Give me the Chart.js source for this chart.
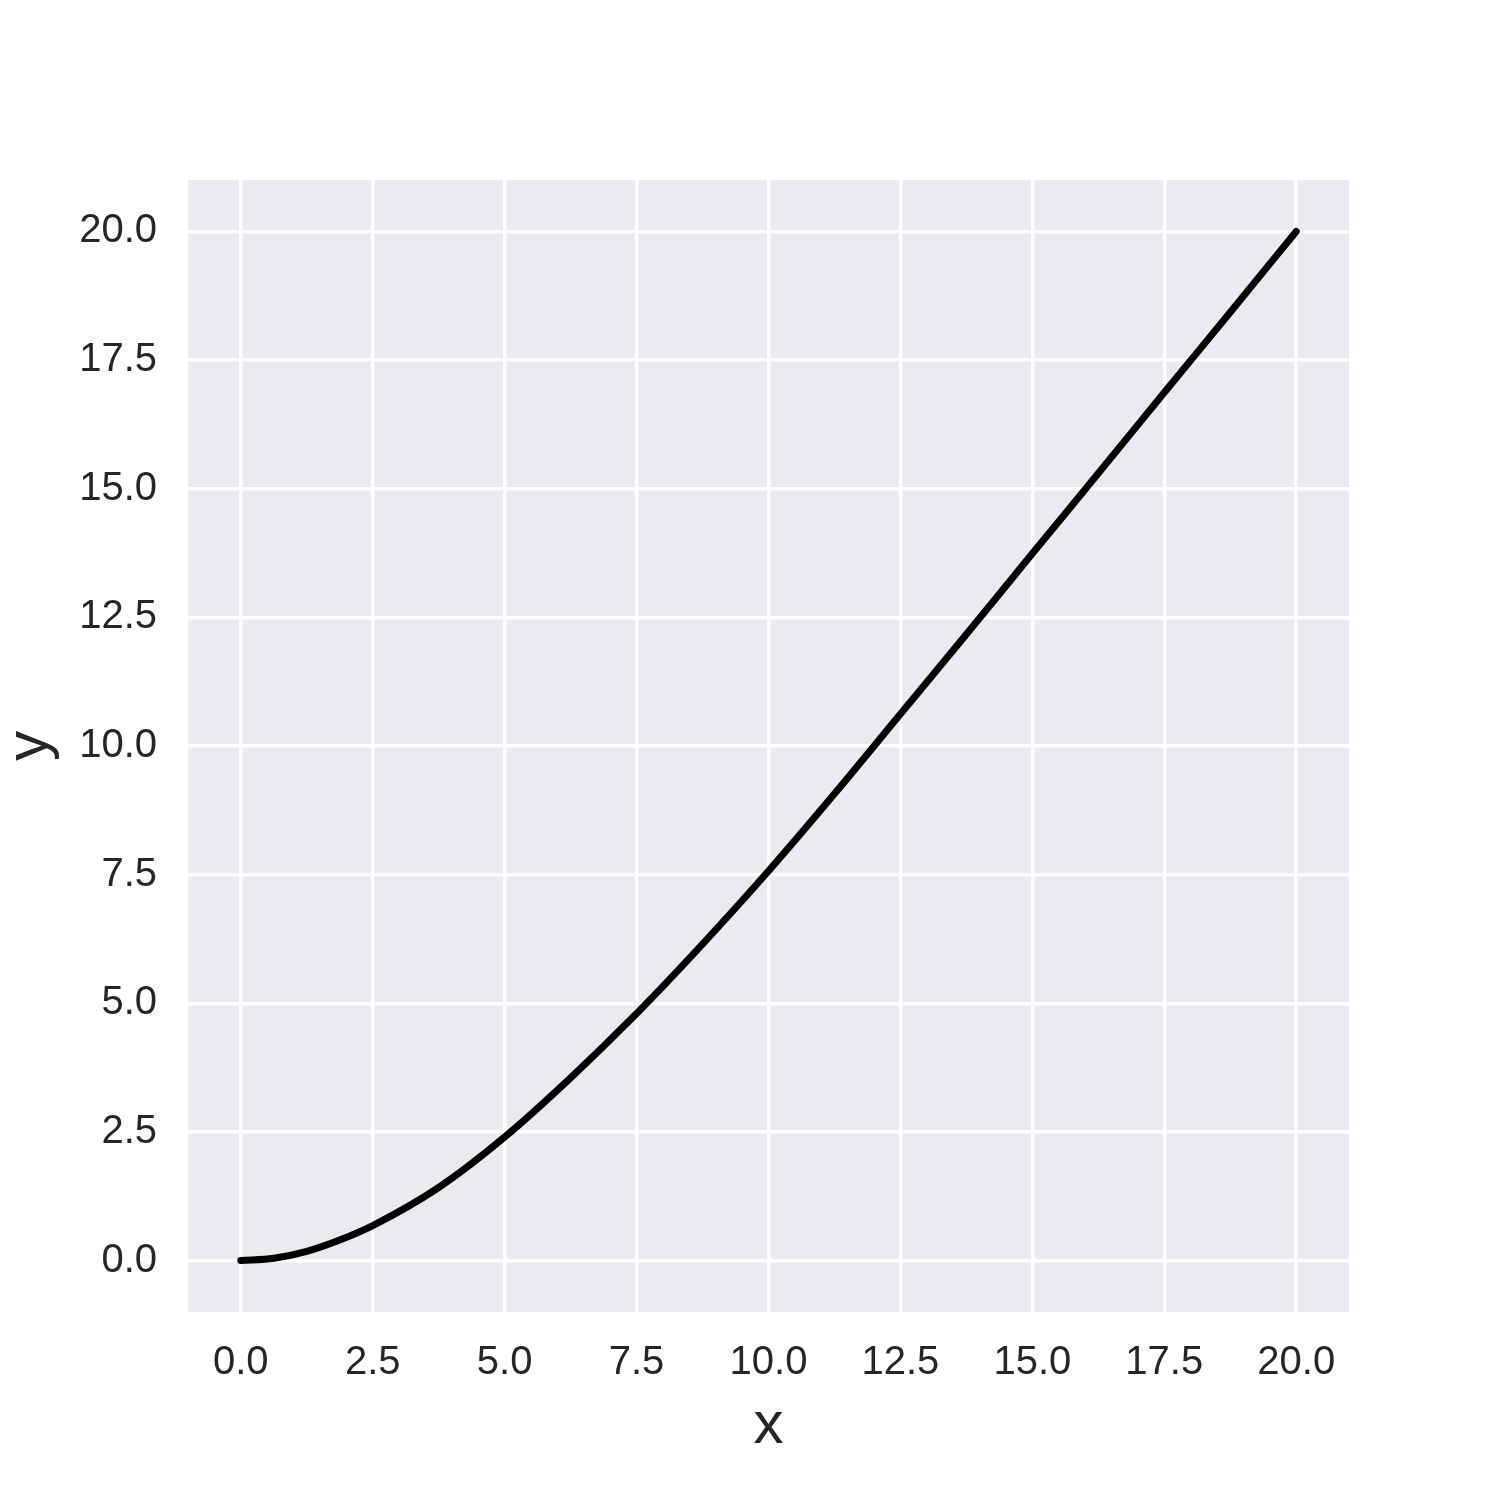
<!DOCTYPE html>
<html>
<head>
<meta charset="utf-8">
<script src="https://cdn.jsdelivr.net/npm/chart.js@4"></script>
<style>
html,body{margin:0;padding:0;background:#fff;}
#c{display:block;}
</style>
</head>
<body>
<canvas id="c" width="1500" height="1500"></canvas>
<script>
const xValues = [0, 0.625, 1.25, 1.875, 2.5, 3.75, 5, 6.25, 7.5, 8.75, 10, 11.25, 12.5, 13.75, 15, 16.25, 17.5, 18.75, 20];
const yValues = [0, 0.045, 0.18, 0.4, 0.68, 1.42, 2.4, 3.55, 4.8, 6.15, 7.57, 9.07, 10.62, 12.17, 13.74, 15.3, 16.87, 18.43, 20];
const xTicks = [0, 2.5, 5, 7.5, 10, 12.5, 15, 17.5, 20];
const yTicks = [0, 2.5, 5, 7.5, 10, 12.5, 15, 17.5, 20];
const xLabel = 'x';
const yLabel = 'y';

const points = xValues.map((x, i) => ({x: x, y: yValues[i]}));

const bgPlugin = {
  id: 'plotBg',
  beforeDraw(chart) {
    const {ctx, chartArea: a} = chart;
    ctx.save();
    ctx.fillStyle = '#EAEAF2';
    ctx.fillRect(a.left, a.top, a.right - a.left, a.bottom - a.top);
    ctx.restore();
  }
};

const fontFamily = '"Liberation Sans", Arial, sans-serif';

new Chart(document.getElementById('c'), {
  type: 'line',
  data: {
    datasets: [{
      data: points,
      borderColor: '#000000',
      borderWidth: 7,
      borderCapStyle: 'round',
      borderJoinStyle: 'round',
      pointRadius: 0,
      cubicInterpolationMode: 'monotone',
      fill: false
    }]
  },
  options: {
    responsive: false,
    animation: false,
    devicePixelRatio: 1,
    layout: {padding: {top: 180, right: 151, left: 0, bottom: 0}},
    plugins: {legend: {display: false}, tooltip: {enabled: false}},
    scales: {
      x: {
        type: 'linear',
        min: -1, max: 21,
        afterFit(s) { s.height = 188; },
        afterBuildTicks(s) { s.ticks = xTicks.map(v => ({value: v})); },
        grid: {color: '#FFFFFF', lineWidth: 3.5, drawTicks: false},
        border: {display: false},
        ticks: {
          padding: 27,
          color: '#262626',
          font: {family: fontFamily, size: 40},
          maxRotation: 0,
          autoSkip: false,
          callback: v => v.toFixed(1)
        },
        title: {
          display: true, text: xLabel, color: '#262626',
          font: {family: fontFamily, size: 60},
          padding: {top: 0, bottom: 38}
        }
      },
      y: {
        type: 'linear',
        min: -1, max: 21,
        afterFit(s) { s.width = 188; },
        afterBuildTicks(s) { s.ticks = yTicks.map(v => ({value: v})); },
        grid: {color: '#FFFFFF', lineWidth: 3.5, drawTicks: false},
        border: {display: false},
        ticks: {
          padding: 31,
          color: '#262626',
          font: {family: fontFamily, size: 40},
          autoSkip: false,
          callback: v => v.toFixed(1)
        },
        title: {
          display: true, text: yLabel, color: '#262626',
          font: {family: fontFamily, size: 60},
          padding: {top: -6, bottom: 0}
        }
      }
    }
  },
  plugins: [bgPlugin]
});
</script>
</body>
</html>
